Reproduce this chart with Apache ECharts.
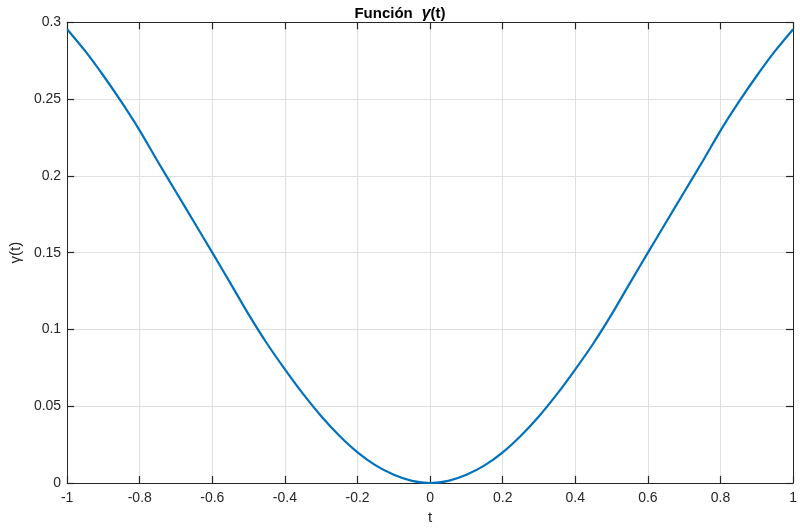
<!DOCTYPE html>
<html>
<head>
<meta charset="utf-8">
<script src="https://cdn.jsdelivr.net/npm/echarts@6/dist/echarts.min.js"></script>
<style>html,body{margin:0;padding:0;background:#fff;}#c{width:800px;height:530px;}</style>
</head>
<body>
<div id="c"></div>
<script>
const tValues = [-1, -0.95, -0.9, -0.85, -0.8, -0.75, -0.7, -0.65, -0.6, -0.55, -0.5, -0.45, -0.4, -0.35, -0.3, -0.25, -0.2, -0.15, -0.1, -0.05,
  0, 0.05, 0.1, 0.15, 0.2, 0.25, 0.3, 0.35, 0.4, 0.45, 0.5, 0.55, 0.6, 0.65, 0.7, 0.75, 0.8, 0.85, 0.9, 0.95, 1];
const gammaValues = [0.2955, 0.2812, 0.2652, 0.2480, 0.2295, 0.2092, 0.1895, 0.1698, 0.1500, 0.1300, 0.1098, 0.0910, 0.0740, 0.0580, 0.0435, 0.0308, 0.0200, 0.0115, 0.0054, 0.0014,
  0, 0.0014, 0.0054, 0.0115, 0.0200, 0.0308, 0.0435, 0.0580, 0.0740, 0.0910, 0.1098, 0.1300, 0.1500, 0.1698, 0.1895, 0.2092, 0.2295, 0.2480, 0.2652, 0.2812, 0.2955];
const titleText = 'Función';
const yName = 'γ(t)';
const xName = 't';

const FONT = '"Liberation Sans", Arial, Helvetica, sans-serif';
const DARK = '#262626';
const GRIDC = '#dfdfdf';

const chart = echarts.init(document.getElementById('c'), null, {renderer: 'canvas'});
const seriesData = tValues.map((t, i) => [t, gammaValues[i]]);

const boxAxisCommon = {
  axisLine: {show: true, onZero: false, lineStyle: {color: DARK, width: 1}},
  axisTick: {show: true, inside: true, length: 7, lineStyle: {color: DARK, width: 1.2}},
  axisLabel: {show: false},
  splitLine: {show: false}
};

chart.setOption({
  animation: false,
  backgroundColor: '#fff',
  title: {
    text: '{b|' + titleText + '}{g|γ}{b|(t)}',
    left: 'center',
    top: 1,
    textStyle: {
      rich: {
        b: {fontFamily: FONT, fontWeight: 'bold', fontSize: 15, color: '#000'},
        g: {fontFamily: FONT, fontWeight: 'bold', fontStyle: 'italic', fontSize: 16, color: '#000', padding: [0, 0, 0, 9]}
      }
    }
  },
  grid: {left: 61.5, right: 3, top: 22.3, bottom: 42.3, containLabel: false},
  xAxis: [{
    type: 'value', min: -1, max: 1, interval: 0.2, position: 'bottom',
    name: xName, nameLocation: 'middle', nameGap: 27,
    nameTextStyle: {fontFamily: FONT, fontSize: 15, color: DARK},
    axisLine: {show: true, onZero: false, lineStyle: {color: DARK, width: 1}},
    axisTick: {show: true, inside: true, length: 7, lineStyle: {color: DARK, width: 1.2}},
    axisLabel: {fontFamily: FONT, fontSize: 14, color: DARK, margin: 8},
    splitLine: {show: true, lineStyle: {color: GRIDC, width: 1}}
  }, Object.assign({
    type: 'value', min: -1, max: 1, interval: 0.2, position: 'top'
  }, boxAxisCommon)],
  yAxis: [{
    type: 'value', min: 0, max: 0.3, interval: 0.05, position: 'left',
    name: yName, nameLocation: 'middle', nameGap: 42, nameRotate: 90,
    nameTextStyle: {fontFamily: FONT, fontSize: 15, color: DARK},
    axisLine: {show: true, onZero: false, lineStyle: {color: DARK, width: 1}},
    axisTick: {show: true, inside: true, length: 7, lineStyle: {color: DARK, width: 1.2}},
    axisLabel: {fontFamily: FONT, fontSize: 14, color: DARK, margin: 6},
    splitLine: {show: true, lineStyle: {color: GRIDC, width: 1}}
  }, Object.assign({
    type: 'value', min: 0, max: 0.3, interval: 0.05, position: 'right'
  }, boxAxisCommon)],
  series: [{
    type: 'line',
    data: seriesData,
    xAxisIndex: 0, yAxisIndex: 0,
    showSymbol: false,
    smooth: 0.25,
    lineStyle: {color: '#0072BD', width: 2.2},
    itemStyle: {color: '#0072BD'}
  }]
});
</script>
</body>
</html>
